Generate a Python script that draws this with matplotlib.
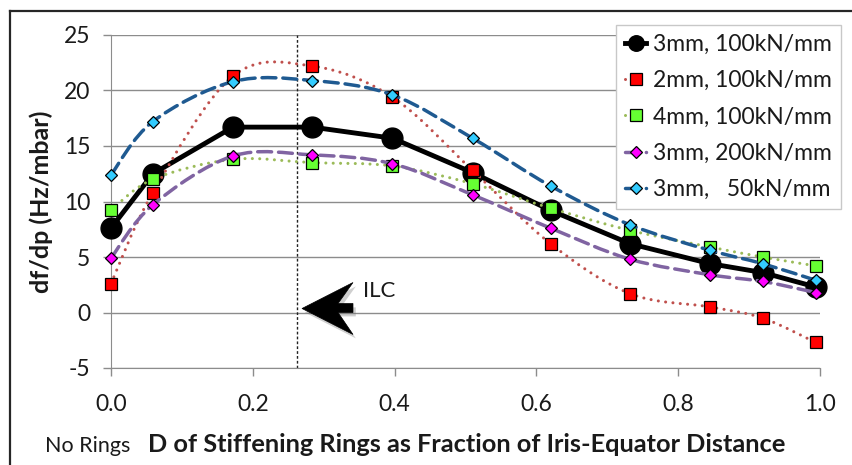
import numpy as np
import matplotlib
matplotlib.use("Agg")
import matplotlib.pyplot as plt
from matplotlib.path import Path
from matplotlib.patches import PathPatch, Polygon
from matplotlib.lines import Line2D

plt.rcParams['font.family'] = ['Lato', 'DejaVu Sans']
plt.rcParams['axes.unicode_minus'] = False

# Дані
x_frac = [0.0, 0.059, 0.172, 0.284, 0.397, 0.51, 0.62, 0.732, 0.845, 0.919, 0.994]

s_3mm_100 = [7.6, 12.5, 16.7, 16.7, 15.7, 12.6, 9.2, 6.2, 4.4, 3.6, 2.3]
s_2mm_100 = [2.6, 10.8, 21.3, 22.2, 19.4, 12.8, 6.2, 1.7, 0.5, -0.5, -2.7]
s_4mm_100 = [9.2, 12.0, 13.8, 13.5, 13.2, 11.6, 9.4, 7.4, 5.9, 5.0, 4.2]
s_3mm_200 = [4.9, 9.7, 14.1, 14.2, 13.4, 10.6, 7.6, 4.8, 3.4, 2.8, 1.8]
s_3mm_50 = [12.4, 17.2, 20.8, 20.9, 19.6, 15.7, 11.4, 7.9, 5.6, 4.4, 2.9]

labels = ["3mm, 100kN/mm", "2mm, 100kN/mm", "4mm, 100kN/mm",
          "3mm, 200kN/mm", "3mm,   50kN/mm"]
ilc_x = 0.263

x_ticks = [0.0, 0.2, 0.4, 0.6, 0.8, 1.0]
y_ticks = [-5, 0, 5, 10, 15, 20, 25]


def smooth_path(xs, ys):
    """Згладжена крива як в Excel (Безьє через точки)"""
    pts = np.column_stack([xs, ys])
    n = len(pts)
    verts = [pts[0]]
    codes = [Path.MOVETO]
    for i in range(n - 1):
        p0 = pts[max(i - 1, 0)]
        p1 = pts[i]
        p2 = pts[i + 1]
        p3 = pts[min(i + 2, n - 1)]
        verts += [p1 + (p2 - p0) / 6, p2 - (p3 - p1) / 6, p2]
        codes += [Path.CURVE4] * 3
    return Path(verts, codes)


fig = plt.figure(figsize=(8.52, 4.65), dpi=100)
ax = fig.add_axes([111 / 852, 1 - 368 / 465, 709 / 852, 333 / 465])

grid_c = '#8c8c8c'
txt_c = '#1a1a1a'
ax.set_xlim(0, 1)
ax.set_ylim(-5, 25)
ax.set_yticks(y_ticks)
ax.set_xticks(x_ticks)
ax.set_xticklabels([f"{v:.1f}" for v in x_ticks])
ax.yaxis.grid(True, color=grid_c, lw=1.0)
ax.set_axisbelow(True)
for sp in ['top', 'right']:
    ax.spines[sp].set_visible(False)
ax.spines['left'].set_color(grid_c)
ax.spines['bottom'].set_color(grid_c)
ax.tick_params(axis='both', length=6, width=1, color=grid_c, labelsize=16.5, labelcolor=txt_c)
ax.tick_params(axis='x', pad=13)
ax.tick_params(axis='y', pad=9)

# Вертикальна лінія ILC
ax.axvline(ilc_x, color='#222222', lw=1.0, ls=(0, (2, 1.5)), zorder=1.5)

series = [
    # (дані, колір лінії, стиль, товщина, маркер, розмір, заливка, згладжування)
    (s_3mm_100, 'black', '-', 3.5, 'o', 15, 'black', False),
    (s_2mm_100, '#C0504D', (0, (0.01, 2.4)), 2.2, 's', 8.5, '#FF0000', True),
    (s_4mm_100, '#9BBB59', (0, (0.01, 2.4)), 2.2, 's', 8.5, '#66FF33', True),
    (s_3mm_200, '#8064A2', (0, (4, 2)), 2.5, 'D', 6.0, '#FF00FF', True),
    (s_3mm_50, '#1F5A91', (0, (4, 2)), 2.5, 'D', 6.0, '#33CCFF', True),
]

handles = []
for i, (vals, lc, ls, lw, mk, ms, mfc, smooth) in enumerate(series):
    z = 3 + 2 * i
    if smooth:
        patch = PathPatch(smooth_path(x_frac, vals), fill=False, edgecolor=lc,
                          lw=lw, linestyle=ls, capstyle='round', zorder=z, clip_on=False)
        ax.add_patch(patch)
        ax.plot(x_frac, vals, ls='none', marker=mk, ms=ms, mfc=mfc, mec='black',
                mew=0.9, zorder=z + 1, clip_on=False)
    else:
        ax.plot(x_frac, vals, color=lc, lw=lw, ls=ls, marker=mk, ms=ms, mfc=mfc,
                mec='black', zorder=z, clip_on=False)
    handles.append(Line2D([], [], color=lc, lw=lw, ls=ls, dash_capstyle='round',
                          marker=mk, ms=ms * 0.75 if mk == 'o' else ms,
                          mfc=mfc, mec='black', mew=0.9))

leg = ax.legend(handles, labels, loc='upper right',
                bbox_to_anchor=(841 / 852, 1 - 25 / 465),
                bbox_transform=fig.transFigure, borderaxespad=0, fontsize=16.5,
                handlelength=0.9, handletextpad=0.3, labelspacing=0.66,
                borderpad=0.4, fancybox=False, framealpha=1)
leg.get_frame().set_edgecolor('#c8c8c8')
leg.get_frame().set_linewidth(1.0)
for t in leg.get_texts():
    t.set_color(txt_c)

# Стрілка ILC
arrow_shape = [(0.2694, 0.36), (0.3413, 2.70), (0.3202, 0.81), (0.3413, 0.81),
               (0.3413, 0.0), (0.3202, 0.0), (0.3413, -1.98)]
shadow = [(px + 0.004, py - 0.35) for px, py in arrow_shape]
ax.add_patch(Polygon(shadow, closed=True, facecolor='#777777', edgecolor='none',
                     alpha=0.35, zorder=2))
ax.add_patch(Polygon(arrow_shape, closed=True, facecolor='black', edgecolor='black',
                     lw=0.5, zorder=2.5))
ax.text(0.378, 1.95, "ILC", fontsize=16, ha='center', va='center', color=txt_c)

# Підписи осей
ax.set_ylabel("df/dp (Hz/mbar)", fontsize=18, fontweight='bold', color=txt_c)
ax.yaxis.set_label_coords(-0.082, 0.5)
ax.set_xlabel("D of Stiffening Rings as Fraction of Iris-Equator Distance",
              fontsize=18.3, fontweight='bold', color=txt_c, va='baseline')
ax.xaxis.set_label_coords(0.502, -0.252)
ax.text(-0.093, -0.252, "No Rings", fontsize=15.5, ha='left', va='baseline',
        transform=ax.transAxes, color=txt_c)

# Рамка навколо діаграми (видно лише верх і ліво)
fig.add_artist(Line2D([10 / 852, 10 / 852], [0, 1 - 11 / 465], color='#262626', lw=1.6))
fig.add_artist(Line2D([10 / 852, 1], [1 - 11 / 465, 1 - 11 / 465], color='#262626', lw=1.6))

fig.savefig('out.png', dpi=100)
